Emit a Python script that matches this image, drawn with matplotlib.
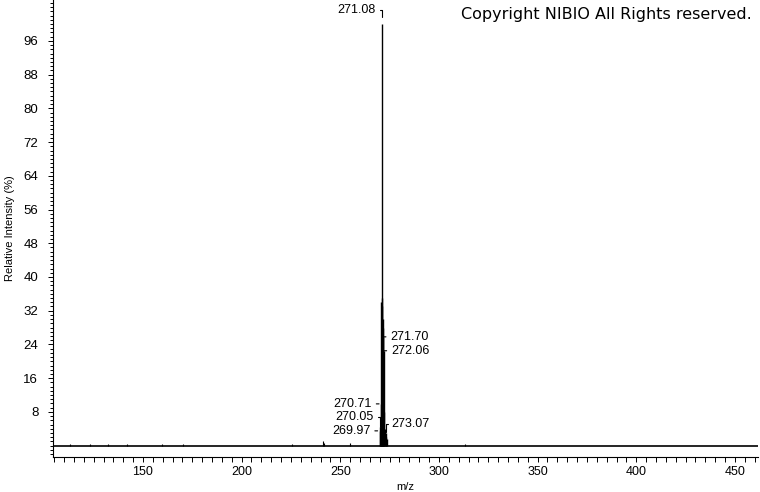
import matplotlib
matplotlib.use("Agg")
import matplotlib.pyplot as plt
from matplotlib.ticker import MultipleLocator, FixedLocator

plt.rcParams['font.family'] = ['Liberation Sans', 'DejaVu Sans']

# Spectrum peaks (m/z, relative intensity %)
peak_mz = [269.97, 270.05, 270.55, 270.71, 270.85, 270.95, 271.08, 271.25,
           271.40, 271.55, 271.70, 271.90, 272.06, 272.30, 272.60, 273.07,
           273.30, 273.60]
peak_int = [3.5, 4.5, 6.0, 9.9, 34.0, 35.0, 100.0, 33.0,
            30.0, 28.0, 25.8, 15.0, 22.5, 8.0, 4.0, 3.0,
            2.0, 1.5]

# small noise peaks along the baseline
noise_mz = [113.0, 123.1, 132.3, 141.9, 159.6, 170.3, 225.5, 241.2, 241.8, 254.9, 313.2]
noise_int = [0.4, 0.4, 0.3, 0.4, 0.3, 0.4, 0.3, 1.0, 0.6, 0.6, 0.5]

# labelled peaks
label_mz = [271.08, 271.70, 272.06, 270.71, 270.05, 269.97, 273.07]
label_int = [100.0, 25.8, 22.5, 9.9, 4.5, 3.5, 3.0]
label_txt = ['271.08', '271.70', '272.06', '270.71', '270.05', '269.97', '273.07']

y_major = [8, 16, 24, 32, 40, 48, 56, 64, 72, 80, 88, 96]
x_major = [150, 200, 250, 300, 350, 400, 450]

fig = plt.figure(figsize=(7.6, 4.92), dpi=100)
ax = fig.add_axes([53 / 760, 1 - 457 / 492, (758 - 53) / 760, 457 / 492])

ax.axhline(0, color='black', lw=1.2, zorder=2)
ax.vlines(peak_mz, 0, peak_int, color='black', lw=1.0, zorder=3)
ax.vlines(noise_mz, 0, noise_int, color='black', lw=0.8, zorder=3)

ax.set_xlim(104.4, 461.7)
ax.set_ylim(-2.7, 105.7)

ax.spines['top'].set_visible(False)
ax.spines['right'].set_visible(False)
ax.spines['left'].set_linewidth(0.8)
ax.spines['bottom'].set_linewidth(0.8)

ax.xaxis.set_major_locator(FixedLocator(x_major))
ax.xaxis.set_minor_locator(MultipleLocator(5))
ax.yaxis.set_major_locator(FixedLocator(y_major))
ax.yaxis.set_minor_locator(MultipleLocator(1))
ax.tick_params(axis='x', which='both', length=3.6, width=0.7, labelsize=9, pad=3)
ax.tick_params(axis='y', which='major', length=3.6, width=0.7, labelsize=9.5, pad=7)
ax.tick_params(axis='y', which='minor', length=2.2, width=0.7)

ax.set_xlabel('m/z', fontsize=8, labelpad=3)
ax.set_ylabel('Relative Intensity (%)', fontsize=8, labelpad=6)

# label layout: offset in pixels, alignment, leader style
offsets = [(-6, 14), (7, 0), (7, 0), (-9, 0), (-6, 10), (-9, 0), (6, 9)]
aligns = ['right', 'left', 'left', 'right', 'right', 'right', 'left']
brackets = [True, False, False, False, True, False, True]
shrink_b = [5, 0, 0, 1.5, 0, 1.5, 1]

for mz, inten, txt, off, ha, br, sb in zip(label_mz, label_int, label_txt,
                                             offsets, aligns, brackets, shrink_b):
    if br:
        cs = 'angle,angleA=0,angleB=90,rad=0'
    else:
        cs = 'arc3'
    ax.annotate(txt, xy=(mz, inten), xytext=off, textcoords='offset pixels',
                ha=ha, va='center', fontsize=9,
                arrowprops=dict(arrowstyle='-', color='black', lw=0.8,
                                connectionstyle=cs, shrinkA=1, shrinkB=sb),
                zorder=4)

fig.text(752 / 760, 1 - 14 / 492, 'Copyright NIBIO All Rights reserved.',
         ha='right', va='center', fontsize=11.5, family='DejaVu Sans')

fig.savefig('out.png', dpi=100)
